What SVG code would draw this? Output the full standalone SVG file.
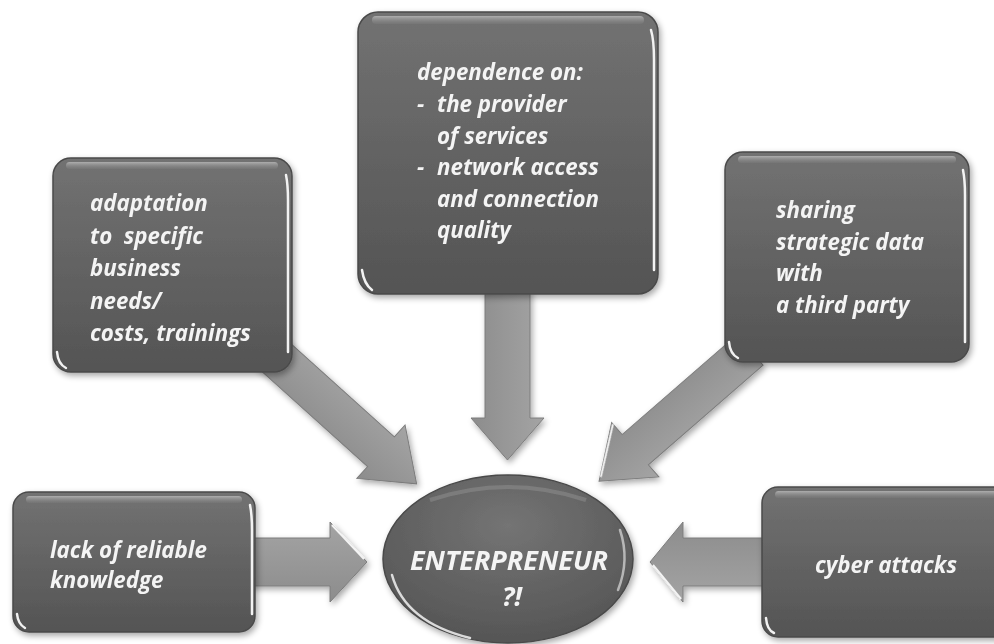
<svg xmlns="http://www.w3.org/2000/svg" width="994" height="644" viewBox="0 0 994 644">
  <defs>
    <linearGradient id="boxFill" x1="0" y1="0" x2="0" y2="1">
      <stop offset="0" stop-color="#727272"/>
      <stop offset="1" stop-color="#545454"/>
    </linearGradient>
    <linearGradient id="topGlint" x1="0" y1="0" x2="0" y2="1">
      <stop offset="0" stop-color="#b4b4b4" stop-opacity="0.9"/>
      <stop offset="1" stop-color="#8a8a8a" stop-opacity="0.2"/>
    </linearGradient>
    <linearGradient id="arrowFill" x1="0" y1="0" x2="0" y2="1">
      <stop offset="0" stop-color="#a4a4a4"/>
      <stop offset="1" stop-color="#8c8c8c"/>
    </linearGradient>
    <radialGradient id="ovalFill" cx="0.5" cy="0.3" r="0.75">
      <stop offset="0" stop-color="#747474"/>
      <stop offset="1" stop-color="#535353"/>
    </radialGradient>
    <filter id="shadow" x="-10%" y="-10%" width="125%" height="125%">
      <feGaussianBlur in="SourceAlpha" stdDeviation="3"/>
      <feOffset dx="2" dy="3"/>
      <feComponentTransfer><feFuncA type="linear" slope="0.35"/></feComponentTransfer>
      <feMerge><feMergeNode/><feMergeNode in="SourceGraphic"/></feMerge>
    </filter>
    <filter id="soft"><feGaussianBlur stdDeviation="0.6"/></filter>
  </defs>
  <style>
    .box { fill: url(#boxFill); stroke: #4a4a4a; stroke-width: 1.5; }
    .glint { fill: url(#topGlint); }
    .rim { fill: none; stroke: #f2f2f2; stroke-width: 2.5; stroke-linecap: round; }
    .arrow { fill: url(#arrowFill); stroke: #7c7c7c; stroke-width: 1; }
    .edge { fill: none; stroke: #f4f4f4; stroke-width: 2; }
    .lbl { font-family: "Open Sans", "Liberation Sans", sans-serif; font-weight: bold; font-style: italic; font-size: 22.3px; fill: #f4f4f4; }
    .big { font-size: 27px; }
  </style>

  <rect width="994" height="644" fill="#ffffff"/>

  <!-- block arrows pointing at the central oval -->
  <g id="connectors" filter="url(#shadow)">
    <g transform="translate(507.5,290) rotate(90)">
      <polygon class="arrow" points="0,-22.5 128,-22.5 128,-36.5 170,0 128,36.5 128,22.5 0,22.5"/>
      <polyline class="edge" points="0,-20 126,-20" filter="url(#soft)"/>
    </g>
    <g transform="translate(268,350) rotate(42)">
      <polygon class="arrow" points="0,-20 152,-20 152,-36 200,0 152,36 152,20 0,20"/>
      <polyline class="edge" points="20,18 150,18" filter="url(#soft)"/>
      <polyline class="edge" points="20,-18 150,-18" stroke-opacity="0.6" filter="url(#soft)"/>
    </g>
    <g transform="translate(750,350) rotate(139)">
      <polygon class="arrow" points="0,-20 152,-20 152,-36 200,0 152,36 152,20 0,20"/>
      <polyline class="edge" points="20,-18 150,-18" filter="url(#soft)"/>
      <polyline class="edge" points="152,34 196,2" filter="url(#soft)"/>
    </g>
    <g transform="translate(240,562)">
      <polygon class="arrow" points="0,-24 90,-24 90,-40 127,0 90,40 90,24 0,24"/>
      <polyline class="edge" points="92,-37 124,-3" filter="url(#soft)"/>
      <polyline class="edge" points="15,22 88,22" stroke-opacity="0.7" filter="url(#soft)"/>
    </g>
    <g transform="translate(780,562) rotate(180)">
      <polygon class="arrow" points="0,-24 97,-24 97,-40 130,0 97,40 97,24 0,24"/>
      <polyline class="edge" points="99,-37 127,-3" filter="url(#soft)"/>
      <polyline class="edge" points="15,22 95,22" stroke-opacity="0.7" filter="url(#soft)"/>
    </g>
  </g>

  <!-- top: dependence -->
  <g id="node-dependence" filter="url(#shadow)">
    <rect class="box" x="358" y="12" width="300" height="282" rx="20"/>
    <rect class="glint" x="372" y="16" width="272" height="8" rx="4"/>
    <path class="rim" d="M651,30 Q654,40 654,60 L654,270"/>
    <path class="rim" d="M362,270 Q364,284 372,290"/>
    <text class="lbl" x="417" y="80">dependence on:</text>
    <text class="lbl" x="417" y="112">-</text>
    <text class="lbl" x="437" y="112">the provider</text>
    <text class="lbl" x="437" y="144">of services</text>
    <text class="lbl" x="417" y="175">-</text>
    <text class="lbl" x="437" y="175">network access</text>
    <text class="lbl" x="437" y="207">and connection</text>
    <text class="lbl" x="437" y="238">quality</text>
  </g>

  <!-- upper left: adaptation -->
  <g id="node-adaptation" filter="url(#shadow)">
    <rect class="box" x="53" y="158" width="239" height="214" rx="18"/>
    <rect class="glint" x="66" y="162" width="212" height="7" rx="3.5"/>
    <path class="rim" d="M286,175 Q288,185 288,200 L288,352"/>
    <path class="rim" d="M57,352 Q58,364 66,368"/>
    <text class="lbl" x="90" y="211">adaptation</text>
    <text class="lbl" x="90" y="244" xml:space="preserve">to  specific</text>
    <text class="lbl" x="90" y="276">business</text>
    <text class="lbl" x="90" y="309">needs/</text>
    <text class="lbl" x="90" y="341">costs, trainings</text>
  </g>

  <!-- upper right: sharing -->
  <g id="node-sharing" filter="url(#shadow)">
    <rect class="box" x="725" y="152" width="244" height="210" rx="18"/>
    <rect class="glint" x="738" y="156" width="218" height="7" rx="3.5"/>
    <path class="rim" d="M963,170 Q965,180 965,195 L965,342"/>
    <path class="rim" d="M729,342 Q730,354 738,358"/>
    <text class="lbl" x="776" y="218">sharing</text>
    <text class="lbl" x="776" y="250">strategic data</text>
    <text class="lbl" x="776" y="281">with</text>
    <text class="lbl" x="776" y="313">a third party</text>
  </g>

  <!-- lower left: knowledge -->
  <g id="node-knowledge" filter="url(#shadow)">
    <rect class="box" x="13" y="492" width="242" height="140" rx="16"/>
    <rect class="glint" x="26" y="496" width="216" height="7" rx="3.5"/>
    <path class="rim" d="M250,505 Q252,515 252,530 L252,614"/>
    <path class="rim" d="M17,614 Q18,624 25,628"/>
    <text class="lbl" x="50" y="558">lack of reliable</text>
    <text class="lbl" x="50" y="588">knowledge</text>
  </g>

  <!-- lower right: cyber attacks -->
  <g id="node-cyber" filter="url(#shadow)">
    <rect class="box" x="762" y="487" width="250" height="150" rx="16"/>
    <rect class="glint" x="775" y="491" width="230" height="7" rx="3.5"/>
    <path class="rim" d="M766,618 Q767,630 774,633"/>
    <text class="lbl" x="815" y="573">cyber attacks</text>
  </g>

  <!-- centre: entrepreneur -->
  <g id="node-entrepreneur" filter="url(#shadow)">
    <ellipse cx="508" cy="559" rx="125" ry="84" fill="url(#ovalFill)" stroke="#4a4a4a" stroke-width="1.5"/>
    <path d="M430,500 Q508,474 586,500" fill="none" stroke="#9a9a9a" stroke-width="4" stroke-opacity="0.4" filter="url(#soft)"/>
    <path class="rim" d="M392,575 Q405,622 470,638" stroke-opacity="0.85"/>
    <path class="rim" d="M620,530 Q630,560 618,590" stroke-opacity="0.6"/>
    <text class="lbl big" x="509" y="570" text-anchor="middle">ENTERPRENEUR</text>
    <text class="lbl big" x="512" y="606" text-anchor="middle">?!</text>
  </g>
</svg>
